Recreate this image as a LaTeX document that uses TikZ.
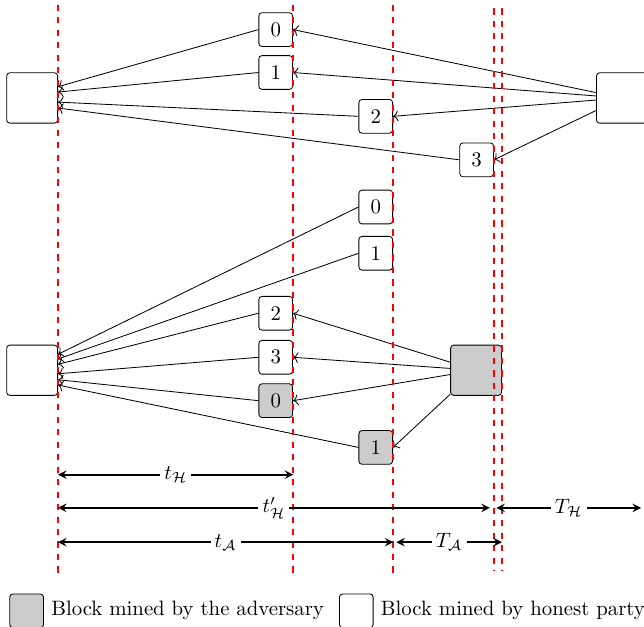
\documentclass[tikz,border=0pt]{standalone}
\usepackage{amsmath,amssymb}
\usepackage{tikz}
\usetikzlibrary{positioning,calc,arrows.meta}

\begin{document}
\begin{tikzpicture}[
    blk/.style={draw,rectangle,rounded corners=1.5pt,minimum size=0.57cm,inner sep=0pt},
    big/.style={draw,rectangle,rounded corners=1.5pt,minimum width=0.86cm,minimum height=0.85cm},
    adv/.style={fill=gray!40},
    bound/.style={red,dashed,line width=0.8pt},
    dim/.style={thick,<->,>=stealth},
    lbl/.style={fill=white,inner sep=2pt}
]
    \useasboundingbox (0,0) rectangle (10.88,-10.59);

    % Honest chain, top half
    \node[big,anchor=east] (h1) at (0.98,-1.655) {};
    \node[big,anchor=west] (h2) at (10.07,-1.655) {};

    \node[blk,anchor=east] (b0) at (4.95,-0.50) {0};
    \node[blk,anchor=east] (b1) at (4.95,-1.225) {1};
    \node[blk,anchor=east] (b2) at (6.64,-1.965) {2};
    \node[blk,anchor=east] (b3) at (8.345,-2.70) {3};

    \draw[->] (h2) -- (b0.east);
    \draw[->] (h2) -- (b1.east);
    \draw[->] (h2) -- (b2.east);
    \draw[->] (h2) -- (b3.east);

    \draw[->] (b0.west) -- ([yshift=0.19cm]h1.east);
    \draw[->] (b1.west) -- ([yshift=0.10cm]h1.east);
    \draw[->] (b2.west) -- ([yshift=-0.07cm]h1.east);
    \draw[->] (b3.west) -- ([yshift=-0.17cm]h1.east);

    % Adversary releases its blocks, bottom half
    \node[big,anchor=east] (h3) at (0.98,-6.255) {};
    \node[big,adv,anchor=east] (a) at (8.48,-6.255) {};

    \node[blk,anchor=east] (c0) at (6.64,-3.497) {0};
    \node[blk,anchor=east] (c1) at (6.64,-4.279) {1};
    \node[blk,anchor=east] (c2) at (4.95,-5.292) {2};
    \node[blk,anchor=east] (c3) at (4.95,-6.036) {3};
    \node[blk,adv,anchor=east] (g0) at (4.95,-6.769) {0};
    \node[blk,adv,anchor=east] (g1) at (6.64,-7.559) {1};

    \draw[->] (a) -- (c2.east);
    \draw[->] (a) -- (c3.east);
    \draw[->] (a) -- (g0.east);
    \draw[->] (a) -- (g1.east);

    \draw[->] (c0.west) -- ([yshift=0.27cm]h3.east);
    \draw[->] (c1.west) -- ([yshift=0.19cm]h3.east);
    \draw[->] (c2.west) -- ([yshift=0.10cm]h3.east);
    \draw[->] (c3.west) -- ([yshift=-0.06cm]h3.east);
    \draw[->] (g0.west) -- ([yshift=-0.16cm]h3.east);
    \draw[->] (g1.west) -- ([yshift=-0.25cm]h3.east);

    % Time boundaries
    \coordinate (s1) at (0.98,-0.08);
    \coordinate (s2) at (4.955,-0.08);
    \coordinate (s3) at (6.645,-0.08);
    \coordinate (s4) at (8.345,-0.14);
    \coordinate (s5) at (8.48,-0.14);
    \draw[bound] (s1) -- ++(0,-9.60);
    \draw[bound] (s2) -- ++(0,-9.60);
    \draw[bound] (s3) -- ++(0,-9.60);
    \draw[bound] (s4) -- ++(0,-9.51);
    \draw[bound] (s5) -- ++(0,-9.51);

    % Durations
    \coordinate (r1) at (0,-8.02);
    \coordinate (r2) at (0,-8.58);
    \coordinate (r3) at (0,-9.16);
    \coordinate (e1) at (10.83,-8.58);

    \draw[dim] (s1 |- r1) -- node[lbl] {$t_{\mathcal{H}}$} (s2 |- r1);
    \draw[dim] (s1 |- r2) -- node[lbl] {$t'_{\mathcal{H}}$} ($(s4 |- r2)+(-0.07,0)$);
    \draw[dim] ($(s4 |- r2)+(0.04,0)$) -- node[lbl] {$T_{\mathcal{H}}$} (e1);
    \draw[dim] (s1 |- r3) -- node[lbl] {$t_{\mathcal{A}}$} (s3 |- r3);
    \draw[dim] ($(s3 |- r3)+(0.05,0)$) -- node[lbl] {$T_{\mathcal{A}}$} (s5 |- r3);

    % Legend
    \node[blk,adv] (key1) at (0.45,-10.32) {};
    \node[right=0pt of key1] (txt1) {Block mined by the adversary};
    \node[blk,right=0.13cm of txt1] (key2) {};
    \node[right=0pt of key2] (txt2) {Block mined by honest party};
\end{tikzpicture}
\end{document}
